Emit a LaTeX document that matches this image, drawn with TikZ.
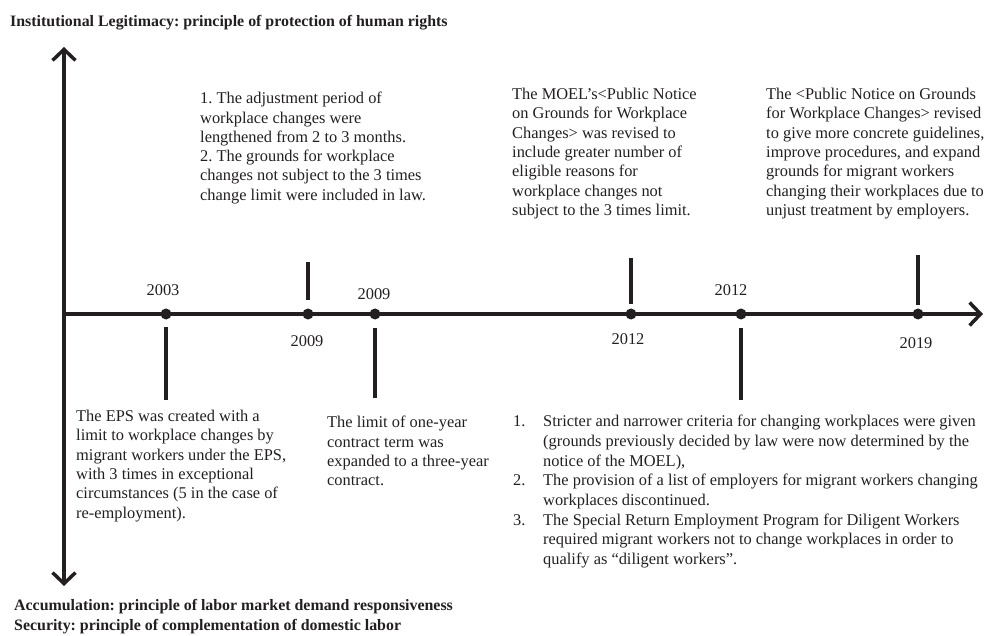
\documentclass[tikz,border=0pt]{standalone}
\usepackage{fontspec}
\setmainfont{Liberation Serif}
\usetikzlibrary{arrows.meta}
\definecolor{ink}{HTML}{231F20}
\frenchspacing

\tikzset{
  axis/.style={line width=4pt, draw=ink},
  barb/.tip={Straight Barb[length=11pt,width=23pt,line width=3.5pt]},
  tick/.style={line width=4pt, draw=ink},
  dot/.style={circle, fill=ink, inner sep=0, minimum size=11pt},
  year/.style={anchor=base, text=ink, font=\fontsize{16.4}{18}\selectfont},
  note/.style={anchor=north west, inner sep=0, align=left, text=ink,
               font=\fontsize{16.4}{19.3}\selectfont},
  title/.style={anchor=base west, inner sep=0, text=ink,
                font=\fontsize{15.9}{20}\selectfont\bfseries},
}

\begin{document}
\begin{tikzpicture}[x=1pt,y=-1pt]
\useasboundingbox (0,0) rectangle (985,636);

% axes
\coordinate (top)    at ( 64, 47);
\coordinate (bottom) at ( 64,586);
\coordinate (origin) at ( 64,314);
\coordinate (right)  at (983,314);
\draw[axis,barb-barb] (top) -- (bottom);
\draw[axis,-barb]     (origin) -- (right);

% events on the line
\node[dot] (e2003)  at (166,314) {};
\node[dot] (e2009a) at (308,314) {};
\node[dot] (e2009b) at (375,314) {};
\node[dot] (e2012a) at (631,314) {};
\node[dot] (e2012b) at (741,314) {};
\node[dot] (e2019)  at (918,314) {};

\path
    (163,296) node [year] (y2003)  {2003}
    (307,346) node [year] (y2009a) {2009}
    (374,299) node [year] (y2009b) {2009}
    (628,344) node [year] (y2012a) {2012}
    (731,296) node [year] (y2012b) {2012}
    (916,348) node [year] (y2019)  {2019};

% ticks
\coordinate (t2009a) at (308,262);  \coordinate (s2009a) at (308,300);
\coordinate (t2003)  at (166,327);  \coordinate (s2003)  at (166,400);
\coordinate (t2009b) at (375,328);  \coordinate (s2009b) at (375,398);
\coordinate (t2012a) at (631,258);  \coordinate (s2012a) at (631,304);
\coordinate (t2012b) at (741,328);  \coordinate (s2012b) at (741,400);
\coordinate (t2019)  at (918,255);  \coordinate (s2019)  at (918,305);
\draw[tick] (t2009a) -- (s2009a);
\draw[tick] (t2003)  -- (s2003);
\draw[tick] (t2009b) -- (s2009b);
\draw[tick] (t2012a) -- (s2012a);
\draw[tick] (t2012b) -- (s2012b);
\draw[tick] (t2019)  -- (s2019);

% titles
\node[title] (legit) at (10,27) {Institutional Legitimacy: principle of protection of human rights};
\node[title] (accum) at (14,610) {Accumulation: principle of labor market demand responsiveness};
\node[title] (secur) at (14,630) {Security: principle of complementation of domestic labor};

% notes above
\node[note] (n2009a) at (200,92) {1. The adjustment period of\\
  workplace changes were\\
  lengthened from 2 to 3 months.\\
  2. The grounds for workplace\\
  changes not subject to the 3 times\\
  change limit were included in law.};
\node[note] (n2012a) at (512,88) {The MOEL's<Public Notice\\
  on Grounds for Workplace\\
  Changes> was revised to\\
  include greater number of\\
  eligible reasons for\\
  workplace changes not\\
  subject to the 3 times limit.};
\node[note] (n2019) at (766,88) {The <Public Notice on Grounds\\
  for Workplace Changes> revised\\
  to give more concrete guidelines,\\
  improve procedures, and expand\\
  grounds for migrant workers\\
  changing their workplaces due to\\
  unjust treatment by employers.};

% notes below
\node[note] (n2003) at (76,410) {The EPS was created with a\\
  limit to workplace changes by\\
  migrant workers under the EPS,\\
  with 3 times in exceptional\\
  circumstances (5 in the case of\\
  re-employment).};
\node[note] (n2009b) at (327,416) {The limit of one-year\\
  contract term was\\
  expanded to a three-year\\
  contract.};
\node[note, font=\fontsize{16.4}{19.7}\selectfont] (n2012b) at (513,415) {%
  \makebox[30pt][l]{1.}Stricter and narrower criteria for changing workplaces were given\\
  \hspace*{30pt}(grounds previously decided by law were now determined by the\\
  \hspace*{30pt}notice of the MOEL),\\
  \makebox[30pt][l]{2.}The provision of a list of employers for migrant workers changing\\
  \hspace*{30pt}workplaces discontinued.\\
  \makebox[30pt][l]{3.}The Special Return Employment Program for Diligent Workers\\
  \hspace*{30pt}required migrant workers not to change workplaces in order to\\
  \hspace*{30pt}qualify as ``diligent workers''.};
\end{tikzpicture}
\end{document}
